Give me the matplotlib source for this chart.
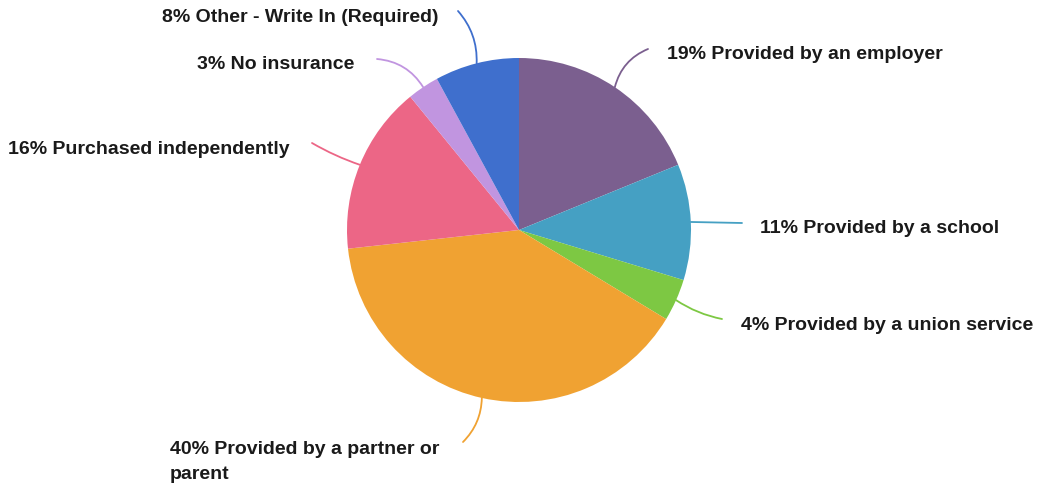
import numpy as np
import matplotlib.pyplot as plt

# Health insurance source shares (%)
categories = [
    "Provided by an employer",
    "Provided by a school",
    "Provided by a union service",
    "Provided by a partner or\nparent",
    "Purchased independently",
    "No insurance",
    "Other - Write In (Required)",
]
shares = [19, 11, 4, 40, 16, 3, 8]
colors = ["#7b5f8f", "#45a0c3", "#7dc843", "#f0a232", "#ec6686", "#c195e0", "#3f6fcd"]

# label anchors (left edge, vertical centre) and curvature of each leader
label_pos = [(667, 434), (760, 260), (741, 163), (170, 27), (8, 339), (197, 424), (162, 471)]
leader_end = [(648, 439), (742, 265), (722, 169), (463, 46), (312, 345), (377, 429), (458, 477)]
leader_rad = [0.25, 0.0, -0.1, 0.2, 0.05, -0.25, -0.2]

fig = plt.figure(figsize=(10.44, 4.89), dpi=100)
ax = fig.add_axes([0, 0, 1, 1])

cx, cy, r = 519, 258, 172
wedges, _ = ax.pie(shares, colors=colors, startangle=90, counterclock=False,
                   center=(cx, cy), radius=r, frame=True,
                   wedgeprops=dict(linewidth=0))
ax.set_xlim(0, 1044)
ax.set_ylim(0, 489)
ax.set_aspect("equal")
ax.axis("off")

for w, cat, s, col, (tx, ty), (ex, ey), rad in zip(
        wedges, categories, shares, colors, label_pos, leader_end, leader_rad):
    mid = np.deg2rad((w.theta1 + w.theta2) / 2)
    sx, sy = cx + r * np.cos(mid), cy + r * np.sin(mid)
    ax.annotate("", xy=(sx, sy), xytext=(ex, ey),
                arrowprops=dict(arrowstyle="-", color=col, lw=1.3,
                                shrinkA=0, shrinkB=0,
                                connectionstyle=f"arc3,rad={rad}"))
    ax.text(tx, ty, f"{s}% {cat}", ha="left", va="center",
            fontsize=14, fontweight="bold", family="Liberation Sans",
            color="#1a1a1a", linespacing=1.55)

fig.savefig("out.png", dpi=100, facecolor="white")
